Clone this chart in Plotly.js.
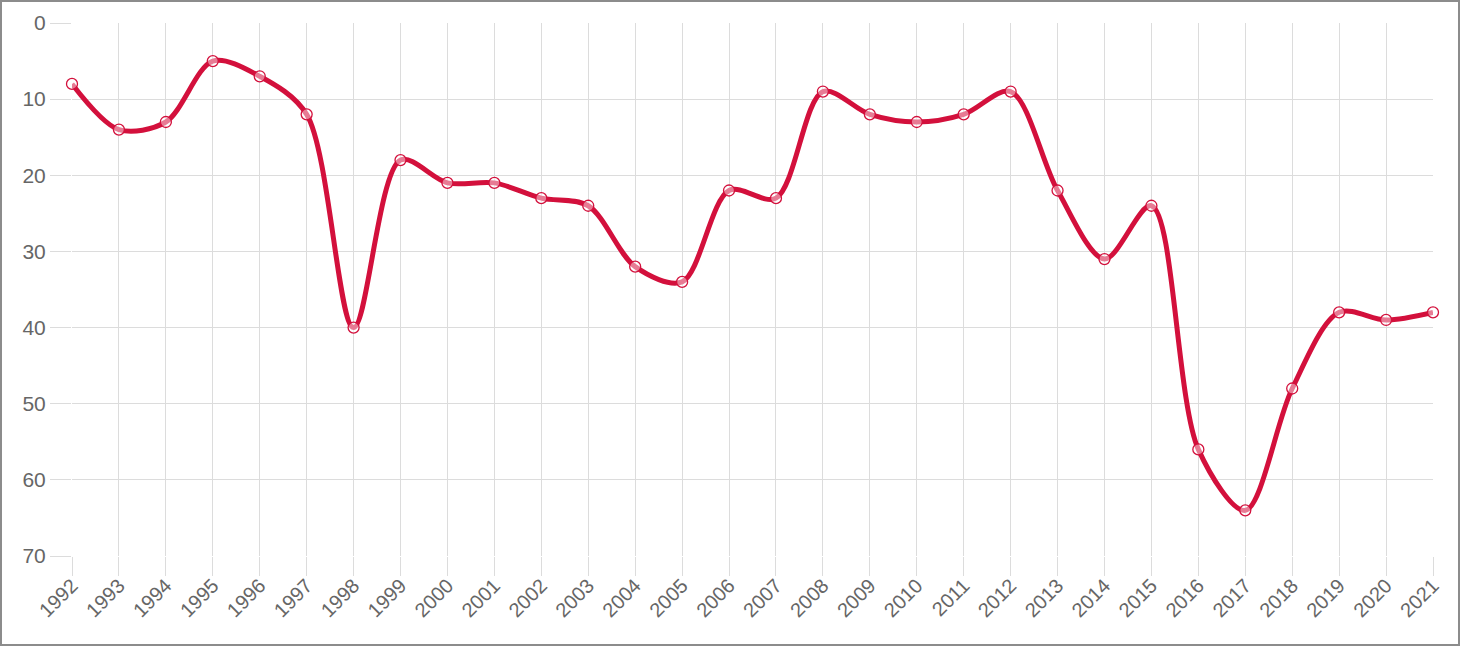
<!DOCTYPE html>
<html>
<head>
<meta charset="utf-8">
<script src="https://cdn.plot.ly/plotly-3.0.1.min.js"></script>
<style>
html,body{margin:0;padding:0;background:#fff;}
#frame{width:1460px;height:646px;box-sizing:border-box;border:2px solid #8c8c8c;overflow:hidden;}
#chart{width:1456px;height:642px;}
</style>
</head>
<body>
<div id="frame"><div id="chart"></div></div>
<script>
const years = ["1992","1993","1994","1995","1996","1997","1998","1999","2000","2001","2002","2003","2004","2005","2006","2007","2008","2009","2010","2011","2012","2013","2014","2015","2016","2017","2018","2019","2020","2021"];
const ranks = [8,14,13,5,7,12,40,18,21,21,23,24,32,34,22,23,9,12,13,12,9,22,31,24,56,64,48,38,39,38];
const yTicks = [0,10,20,30,40,50,60,70];

const lineColor = '#d3103c';
const trace = {
  x: years,
  y: ranks,
  type: 'scatter',
  mode: 'lines+markers',
  cliponaxis: false,
  line: {color: lineColor, width: 5, shape: 'spline', smoothing: 0.9},
  marker: {symbol: 'circle', size: 11, color: 'rgba(255,255,255,0.45)', line: {color: lineColor, width: 1.3}},
  hoverinfo: 'x+y'
};
const layout = {
  width: 1456, height: 642,
  margin: {l: 70, r: 25, t: 21, b: 88},
  paper_bgcolor: '#fff', plot_bgcolor: '#fff',
  showlegend: false,
  font: {family: '"Liberation Sans", Arial, sans-serif', color: '#666', size: 20},
  xaxis: {
    type: 'category',
    range: [0, years.length - 1],
    tickangle: -45,
    showgrid: true, gridcolor: '#dcdcdc', gridwidth: 1,
    ticks: 'outside', ticklen: 19, tickcolor: '#dcdcdc', tickwidth: 1,
    ticklabelstandoff: -10,
    showline: false, zeroline: false,
    tickfont: {size: 20, color: '#666'},
    automargin: false
  },
  yaxis: {
    range: [70, 0],
    tickvals: yTicks,
    showgrid: true, gridcolor: '#dcdcdc', gridwidth: 1,
    ticks: 'outside', ticklen: 21, tickcolor: '#dcdcdc', tickwidth: 1,
    showline: false, zeroline: false,
    tickfont: {size: 21, color: '#666'},
    automargin: false
  }
};
Plotly.newPlot('chart', [trace], layout, {displayModeBar: false, staticPlot: true});
</script>
</body>
</html>
